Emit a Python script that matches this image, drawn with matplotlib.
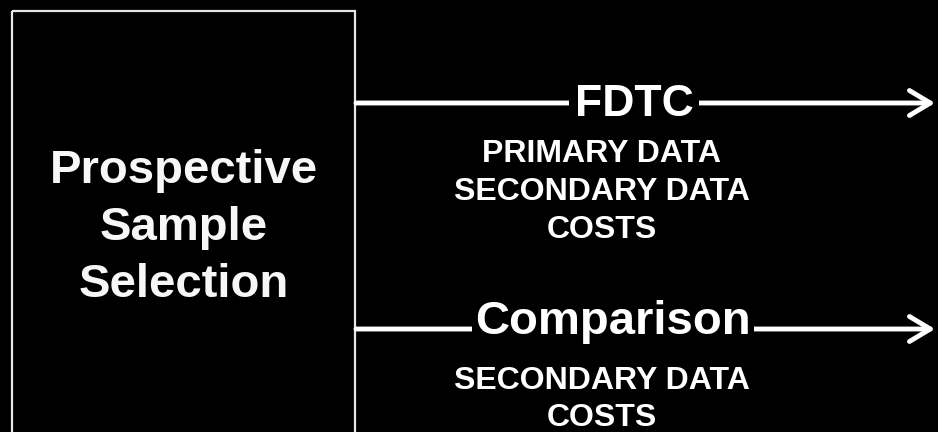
import matplotlib
matplotlib.use('Agg')
from matplotlib import pyplot as plt
from matplotlib.patches import Rectangle

# ------------------- DADOS -------------------------
box_lines = ['Prospective', 'Sample', 'Selection']
branch_names = ['FDTC', 'Comparison']
branch_items = [['PRIMARY DATA', 'SECONDARY DATA', 'COSTS'],
                ['SECONDARY DATA', 'COSTS']]

# ------------------- LAYOUT (pixels) ---------------
W, H = 938, 432
box_left, box_top, box_right = 12, 11, 355
box_baselines = [183, 240, 297]
branch_y = [103, 329]
branch_label_x = [634, 613]
branch_label_size = [32, 34]
item_x = 602
item_y0 = [154.5, 381]
item_step = 37.5
arrow_end = 935

plt.rcParams['font.family'] = ['Liberation Sans', 'DejaVu Sans']

fig = plt.figure(figsize=(W / 100, H / 100), dpi=100, facecolor='black')
ax = fig.add_axes([0, 0, 1, 1])
ax.set_facecolor('black')
ax.set_xlim(0, W)
ax.set_ylim(H, 0)
ax.axis('off')

# caixa da esquerda (passa da borda de baixo)
ax.add_patch(Rectangle((box_left, box_top), box_right - box_left, H + 20,
                       fill=False, edgecolor='#e6e6e6', linewidth=1.6))

for txt, yb in zip(box_lines, box_baselines):
    ax.text((box_left + box_right) / 2, yb, txt, color='#f7f7f7', fontsize=34,
            fontweight='bold', ha='center', va='baseline')

# setas
for i, name in enumerate(branch_names):
    y = branch_y[i]
    ax.annotate('', xy=(arrow_end, y), xytext=(box_right + 1, y),
                arrowprops=dict(arrowstyle='->,head_length=0.75,head_width=0.45',
                                mutation_scale=20, color='white', lw=3.5,
                                shrinkA=0, shrinkB=0, capstyle='round',
                                joinstyle='round'))
    if i == 0:
        ax.text(branch_label_x[i], y + 2, name, color='white', fontsize=branch_label_size[i],
                fontweight='bold', ha='center', va='center', zorder=5,
                bbox=dict(boxstyle='square,pad=0.12', fc='black', ec='none'))
    else:
        ax.text(branch_label_x[i], 334, name, color='white', fontsize=branch_label_size[i],
                fontweight='bold', ha='center', va='baseline', zorder=5,
                bbox=dict(boxstyle='square,pad=0.06', fc='black', ec='none'))

    for j, item in enumerate(branch_items[i]):
        ax.text(item_x, item_y0[i] + j * item_step, item, color='white', fontsize=23,
                fontweight='bold', ha='center', va='center')

plt.savefig('out.png', dpi=100, facecolor='black')
